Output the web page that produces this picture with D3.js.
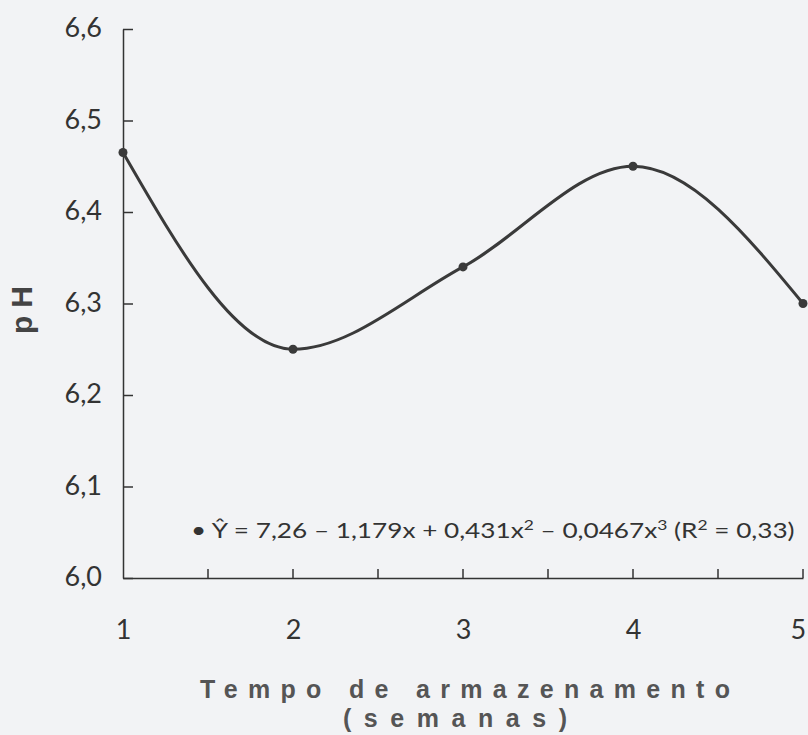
<!DOCTYPE html>
<html>
<head>
<meta charset="utf-8">
<script src="https://cdn.jsdelivr.net/npm/d3@7"></script>
<style>
  html, body { margin: 0; padding: 0; background: #f2f3f5; }
  svg { display: block; }
</style>
</head>
<body>
<div id="chart"></div>
<script>
// storage time (weeks) and measured pH
var weeks = [1, 2, 3, 4, 5];
var phValues = [6.465, 6.25, 6.34, 6.45, 6.30];
var yTicks = [6.0, 6.1, 6.2, 6.3, 6.4, 6.5, 6.6];
var xTicks = [1, 2, 3, 4, 5];
var xMinorTicks = [1.5, 2.5, 3.5, 4.5];
// regression label, split so the exponents can be raised
var equationParts = [
  ["\u2022 \u0176 = 7,26 \u2013 1,179x + 0,431x", false],
  ["2", true],
  [" \u2013 0,0467x", false],
  ["3", true],
  [" (R", false],
  ["2", true],
  [" = 0,33)", false]
];

var W = 808, H = 735;
var margin = { top: 29, right: 5, bottom: 157, left: 123 };
var width = W - margin.left - margin.right,
  height = H - margin.top - margin.bottom;

var svg = d3.select("#chart").append("svg")
  .attr("width", W)
  .attr("height", H);

svg.append("rect").attr("width", W).attr("height", H).attr("fill", "#f2f3f5");

var g = svg.append("g")
  .attr("transform", "translate(" + margin.left + "," + margin.top + ")");

var x = d3.scaleLinear().domain([1, 5]).range([0, width]);
var y = d3.scaleLinear().domain([6.0, 6.6]).range([height, 0]);

var fmt = function(d) { return d3.format(".1f")(d).replace(".", ","); };
var labelFont = "Lato, 'Open Sans', sans-serif";

// Y axis
var yAxis = d3.axisLeft(y).tickValues(yTicks).tickSizeInner(-10).tickSizeOuter(0)
  .tickPadding(21).tickFormat(fmt);
var yg = g.append("g").call(yAxis);
yg.select(".domain").attr("stroke", "#333").attr("stroke-width", 1.5);
yg.selectAll(".tick line").attr("stroke", "#333").attr("stroke-width", 1.5);
yg.selectAll(".tick text").attr("font-family", labelFont).attr("font-size", 27)
  .attr("fill", "#333").attr("dy", "0.28em");

// X axis
var xAxis = d3.axisBottom(x).tickValues(xTicks).tickSize(0).tickPadding(42)
  .tickFormat(d3.format("d"));
var xg = g.append("g").attr("transform", "translate(0," + height + ")").call(xAxis);
xg.select(".domain").attr("stroke", "#333").attr("stroke-width", 1.5);
xg.selectAll(".tick text").attr("font-family", labelFont).attr("font-size", 27).attr("fill", "#333");
// last label sits on the right edge, keep it inside the picture
xg.selectAll(".tick text").filter(function(d) { return d === 5; })
  .attr("text-anchor", "end").attr("dx", "0.1em");

// upward ticks every half week
var allTicks = xTicks.concat(xMinorTicks).filter(function(d) { return d !== 1; });
g.append("g").selectAll("line").data(allTicks).enter().append("line")
  .attr("x1", function(d) { return x(d); })
  .attr("x2", function(d) { return x(d); })
  .attr("y1", height)
  .attr("y2", height - 9)
  .attr("stroke", "#333").attr("stroke-width", 1.5);

// curve
var data = weeks.map(function(w, i) { return { x: w, y: phValues[i] }; });
var line = d3.line()
  .x(function(d) { return x(d.x); })
  .y(function(d) { return y(d.y); })
  .curve(d3.curveMonotoneX);

g.append("path").datum(data)
  .attr("d", line)
  .attr("fill", "none")
  .attr("stroke", "#3a3a3a")
  .attr("stroke-width", 3);

g.selectAll("circle.pt").data(data).enter().append("circle")
  .attr("class", "pt")
  .attr("cx", function(d) { return x(d.x); })
  .attr("cy", function(d) { return y(d.y); })
  .attr("r", 4.5)
  .attr("fill", "#3a3a3a");

// equation, stretched horizontally like the scanned text box
var eqX = 191, eqY = 538, eqWidth = 604;
var eq = svg.append("text")
  .attr("x", eqX)
  .attr("y", eqY)
  .attr("font-family", labelFont)
  .attr("font-size", 21)
  .attr("fill", "#333");
equationParts.forEach(function(p) {
  var t = eq.append("tspan").text(p[0]);
  if (p[1]) t.attr("font-size", 14).attr("dy", -8);
  else t.attr("dy", 8);
});
eq.select("tspan").attr("dy", 0);
var eqLen = eq.node().getComputedTextLength();
var sx = eqWidth / eqLen;
eq.attr("transform", "translate(" + eqX + ",0) scale(" + sx + ",1) translate(" + (-eqX) + ",0)");

// axis titles
var titleFont = "'Liberation Sans Narrow', 'Liberation Sans', Arial, sans-serif";
svg.append("text")
  .attr("x", 200).attr("y", 698)
  .attr("font-family", titleFont)
  .attr("font-weight", "bold")
  .attr("font-size", 25)
  .attr("fill", "#555")
  .attr("textLength", 530)
  .attr("lengthAdjust", "spacing")
  .text("Tempo de armazenamento");
svg.append("text")
  .attr("x", 343).attr("y", 727)
  .attr("font-family", titleFont)
  .attr("font-weight", "bold")
  .attr("font-size", 25)
  .attr("fill", "#555")
  .attr("textLength", 224)
  .attr("lengthAdjust", "spacing")
  .text("(semanas)");

svg.append("text")
  .attr("transform", "translate(32,334) rotate(-90)")
  .attr("font-family", titleFont)
  .attr("font-weight", "bold")
  .attr("font-size", 30)
  .attr("fill", "#444")
  .attr("textLength", 48)
  .attr("lengthAdjust", "spacing")
  .text("pH");
</script>
</body>
</html>
